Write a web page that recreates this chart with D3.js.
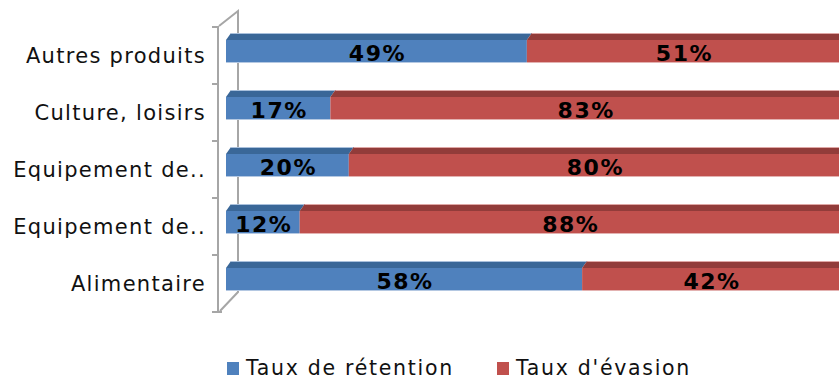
<!DOCTYPE html>
<html><head><meta charset="utf-8">
<script src="https://cdn.jsdelivr.net/npm/d3@7"></script>
<style>
html,body{margin:0;padding:0;background:#fff;}
svg{display:block;}
text{font-family:"DejaVu Sans",Verdana,sans-serif;}
</style></head>
<body>
<svg id="chart" width="839" height="380"></svg>
<script>
const categories = ["Autres produits","Culture, loisirs","Equipement de..","Equipement de..","Alimentaire"];
const retention = [0.49,0.17,0.20,0.12,0.58];
const evasion = [0.51,0.83,0.80,0.88,0.42];
const seriesNames = ["Taux de rétention","Taux d'évasion"];
const seriesColors = ["#4F81BD","#C0504D"];
const topColors = ["#3A6798","#923C3A"];

const svg = d3.select("#chart");

const x = d3.scaleLinear().domain([0,1]).range([226,840]);
const y = d3.scaleBand().domain(d3.range(categories.length)).range([27,312]).padding(0);

// 3D wall lines
const wall = svg.append("g").attr("stroke","#a6a6a6").attr("stroke-width",2).attr("fill","none");
wall.append("path").attr("d",`M219,${y.range()[0]-1} L238,11 L238,292 L220,311`);
wall.append("line").attr("x1",218).attr("x2",218).attr("y1",y.range()[0]-1).attr("y2",y.range()[1]);
const bounds = d3.range(categories.length+1).map(i => y.range()[0] + i*y.step());
wall.selectAll("line.tk").data(bounds).join("line").attr("class","tk")
  .attr("x1",212).attr("x2",218).attr("y1",d=>d).attr("y2",d=>d);
wall.append("line").attr("x1",212).attr("x2",222).attr("y1",312).attr("y2",312);

// category axis labels
const axis = d3.axisLeft(y).tickSize(0).tickPadding(12).tickFormat(i => categories[i]);
const ag = svg.append("g").attr("transform","translate(218,0)").call(axis);
ag.select(".domain").remove();
ag.selectAll("text").attr("font-size",21).attr("fill","#111")
  .style("letter-spacing","1.3px").attr("dy","0.36em")
  .attr("font-family","DejaVu Sans, Verdana, sans-serif");

// bars
const dx = 5, dy = 7;
const stackData = categories.map((c,i)=>({i, vals:[retention[i], evasion[i]]}));
const barG = svg.append("g");
stackData.forEach(d => {
  let acc = 0;
  d.vals.forEach((v,s) => {
    const x0 = x(acc), x1 = x(acc+v);
    const yTop = y(d.i) + 6;
    const yFront = yTop + dy;
    const yBot = y(d.i) + 35;
    const g = barG.append("g");
    g.append("path")
      .attr("d",`M${x0},${yFront} L${x0+dx},${yTop} L${x1+dx},${yTop} L${x1},${yFront} Z`)
      .attr("fill",topColors[s]);
    g.append("line").attr("x1",x0+dx).attr("x2",x1+dx).attr("y1",yTop+0.5).attr("y2",yTop+0.5)
      .attr("stroke", s===0 ? "#a9c0dc" : "#dfa7a5").attr("stroke-width",1);
    g.append("rect").attr("x",x0).attr("y",yFront).attr("width",x1-x0).attr("height",yBot-yFront)
      .attr("fill",seriesColors[s]);
    g.append("line").attr("x1",x0).attr("x2",x1).attr("y1",yBot+0.5).attr("y2",yBot+0.5)
      .attr("stroke", s===0 ? "#b4c8e2" : "#e3b2b1").attr("stroke-width",1);
    g.append("text")
      .attr("x",(x0+x1)/2 + 1).attr("y",y(d.i)+34)
      .attr("text-anchor","middle").attr("font-size",22).attr("font-weight","bold")
      .style("letter-spacing","1.5px").attr("fill","#000")
      .text(d3.format(".0%")(v));
    acc += v;
  });
});

// legend
const leg = svg.append("g");
const legX = [227, 497];
seriesNames.forEach((n,s) => {
  leg.append("rect").attr("x",legX[s]).attr("y",362).attr("width",12).attr("height",13).attr("fill",seriesColors[s]);
  leg.append("text").attr("x",legX[s]+19).attr("y",375).attr("font-size",20.5)
    .style("letter-spacing","1.7px").attr("fill","#111").text(n);
});
</script>
</body></html>
